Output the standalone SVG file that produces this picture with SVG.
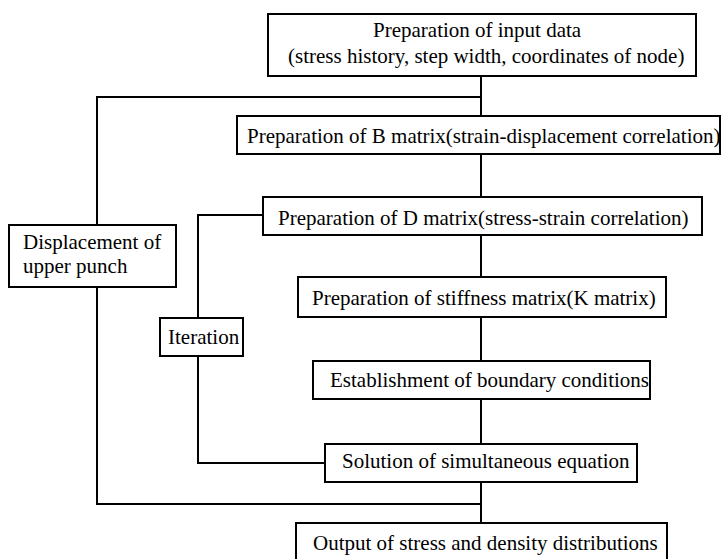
<svg xmlns="http://www.w3.org/2000/svg" width="721" height="559" viewBox="0 0 721 559">
<style>
.box{fill:#fff;stroke:#000;stroke-width:2}
.ln{fill:none;stroke:#000;stroke-width:2}
text{font-family:"Liberation Serif","Times New Roman",serif;font-size:21px;fill:#000}
</style>
<rect width="721" height="559" fill="#fff"/>
<g id="connectors">
<path class="ln" d="M481 76V116M481 154V197M481 235V277M481 317V361M481 399V444M481 482V524"/>
<path class="ln" d="M481 97H97V225M97 287V504H481"/>
<path class="ln" d="M263 215H198V318M198 356V463H325"/>
</g>
<g id="input">
<rect class="box" x="268" y="14" width="428" height="62"/>
<text x="373" y="37">Preparation of input data</text>
<text x="288" y="63">(stress history, step width, coordinates of node)</text>
</g>
<g id="bmatrix">
<rect class="box" x="237" y="116" width="483" height="38"/>
<text x="247" y="143">Preparation of B matrix(strain-displacement correlation)</text>
</g>
<g id="dmatrix">
<rect class="box" x="263" y="197" width="439" height="38"/>
<text x="278" y="225">Preparation of D matrix(stress-strain correlation)</text>
</g>
<g id="displacement">
<rect class="box" x="9" y="225" width="167" height="62"/>
<text x="23" y="249">Displacement of</text>
<text x="23" y="273">upper punch</text>
</g>
<g id="iteration">
<rect class="box" x="160" y="318" width="83" height="38"/>
<text x="168" y="344">Iteration</text>
</g>
<g id="stiffness">
<rect class="box" x="298" y="277" width="368" height="40"/>
<text x="312" y="305">Preparation of stiffness matrix(K matrix)</text>
</g>
<g id="boundary">
<rect class="box" x="313" y="361" width="337" height="38"/>
<text x="330" y="387">Establishment of boundary conditions</text>
</g>
<g id="solution">
<rect class="box" x="325" y="444" width="312" height="38"/>
<text x="342" y="468">Solution of simultaneous equation</text>
</g>
<g id="output">
<rect class="box" x="296" y="523" width="371" height="50"/>
<text x="313" y="550">Output of stress and density distributions</text>
</g>
</svg>
